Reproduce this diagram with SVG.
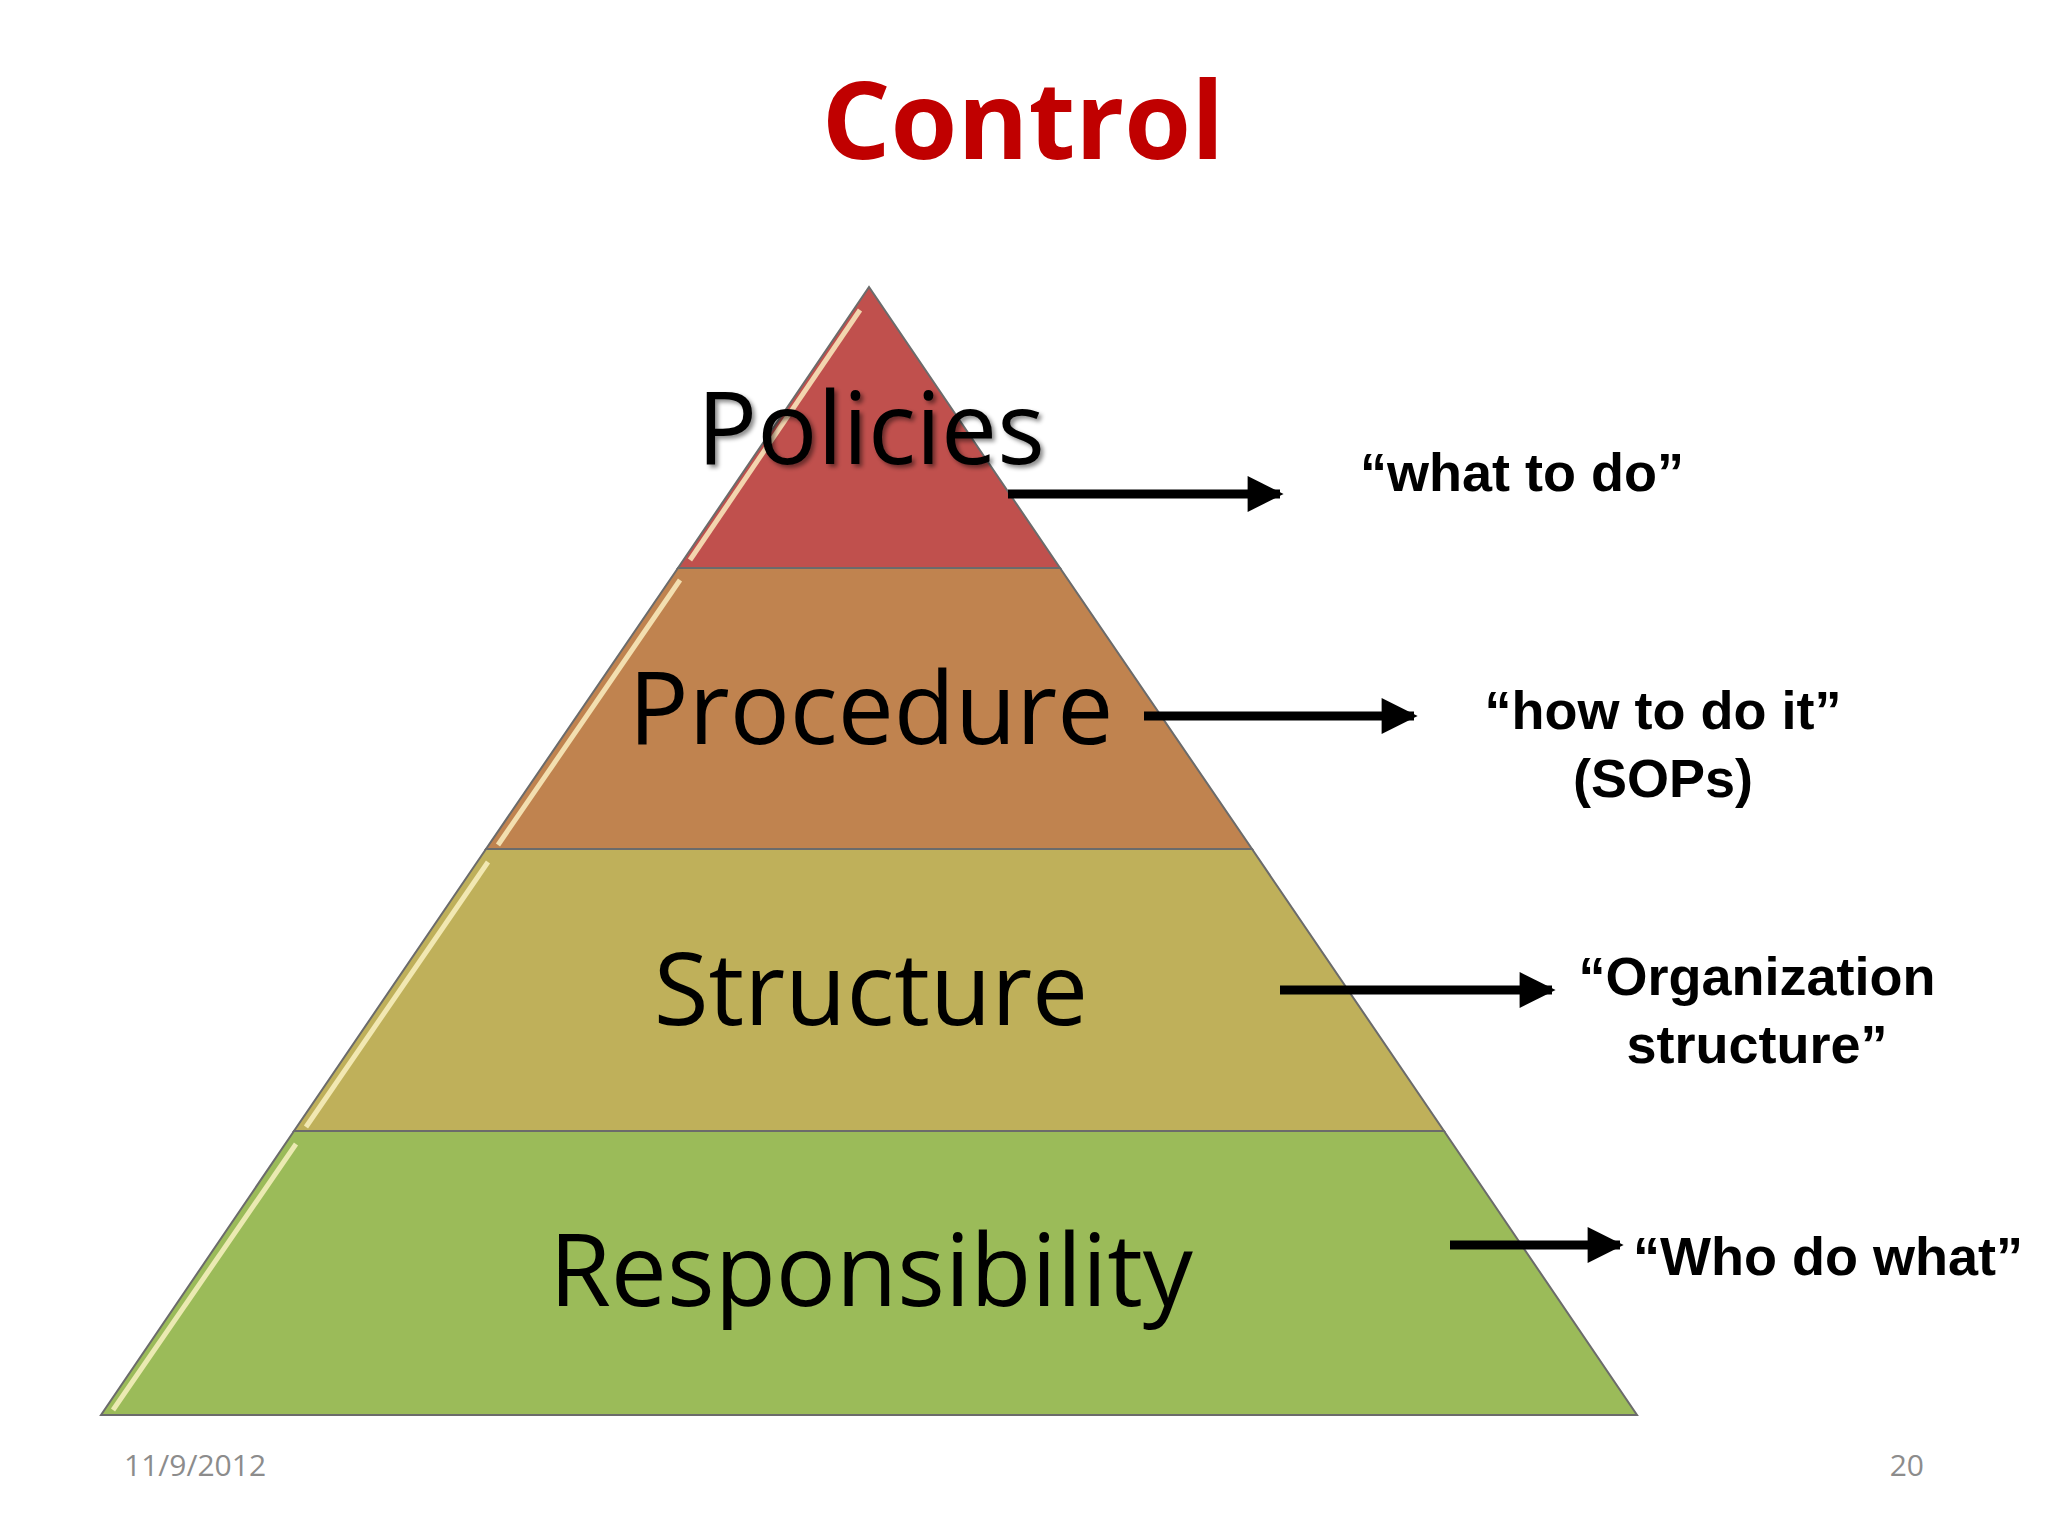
<svg xmlns="http://www.w3.org/2000/svg" width="2048" height="1536" viewBox="0 0 2048 1536">
<defs>
<marker id="ah" viewBox="0 0 10 10" refX="9" refY="5" markerWidth="4.4" markerHeight="4" orient="auto" markerUnits="strokeWidth"><path d="M0,0 L10,5 L0,10 z" fill="#000"/></marker>
<filter id="sh"><feDropShadow dx="3" dy="3" stdDeviation="2" flood-color="#000" flood-opacity="0.45"/></filter>
</defs>
<style>
.band{stroke:#6b6b6b;stroke-width:2}
.hl{stroke:#fff6c8;stroke-width:5;opacity:0.8;fill:none}
.lbl{font-family:"Open Sans","Liberation Sans",sans-serif;font-size:100px;text-anchor:middle;fill:#000}
.note{font-family:"Liberation Sans",Arial,sans-serif;font-weight:bold;font-size:54px;text-anchor:middle;fill:#000}
.arr{stroke:#000;stroke-width:9;fill:none;marker-end:url(#ah)}
.foot{font-family:"Open Sans","Liberation Sans",sans-serif;font-size:30px;fill:#8c8c8c}
</style>
<rect width="2048" height="1536" fill="#fff"/>
<text x="1023" y="159" font-family="Open Sans,Liberation Sans,sans-serif" font-weight="bold" font-size="108" text-anchor="middle" fill="#C00000">Control</text>
<g id="policies"><polygon class="band" points="869,287 678,568 1060,568" fill="#C0504D"/><line class="hl" x1="860" y1="310" x2="690" y2="560"/><text class="lbl" x="871" y="464" filter="url(#sh)">Policies</text></g>
<g id="procedure"><polygon class="band" points="678,568 486,849 1252,849 1060,568" fill="#C0834F"/><line class="hl" x1="680" y1="580" x2="498" y2="845"/><text class="lbl" x="871" y="744">Procedure</text></g>
<g id="structure"><polygon class="band" points="486,849 294,1131 1444,1131 1252,849" fill="#BFB05A"/><line class="hl" x1="488" y1="862" x2="306" y2="1127"/><text class="lbl" x="871" y="1025">Structure</text></g>
<g id="responsibility"><polygon class="band" points="294,1131 101,1415 1637,1415 1444,1131" fill="#9BBB59"/><line class="hl" x1="296" y1="1144" x2="113" y2="1410"/><text class="lbl" x="871" y="1306">Responsibility</text></g>
<g id="connectors">
<line class="arr" x1="1008" y1="494" x2="1280" y2="494"/>
<line class="arr" x1="1144" y1="716" x2="1414" y2="716"/>
<line class="arr" x1="1280" y1="990" x2="1552" y2="990"/>
<line class="arr" x1="1450" y1="1245" x2="1620" y2="1245"/>
</g>
<g id="notes">
<text class="note" x="1522" y="491">“what to do”</text>
<text class="note" x="1663" y="729">“how to do it”</text>
<text class="note" x="1663" y="797">(SOPs)</text>
<text class="note" x="1757" y="995">“Organization</text>
<text class="note" x="1757" y="1063">structure”</text>
<text class="note" x="1828" y="1275">“Who do what”</text>
</g>
<text class="foot" x="124" y="1476">11/9/2012</text>
<text class="foot" x="1924" y="1476" text-anchor="end">20</text>
</svg>
